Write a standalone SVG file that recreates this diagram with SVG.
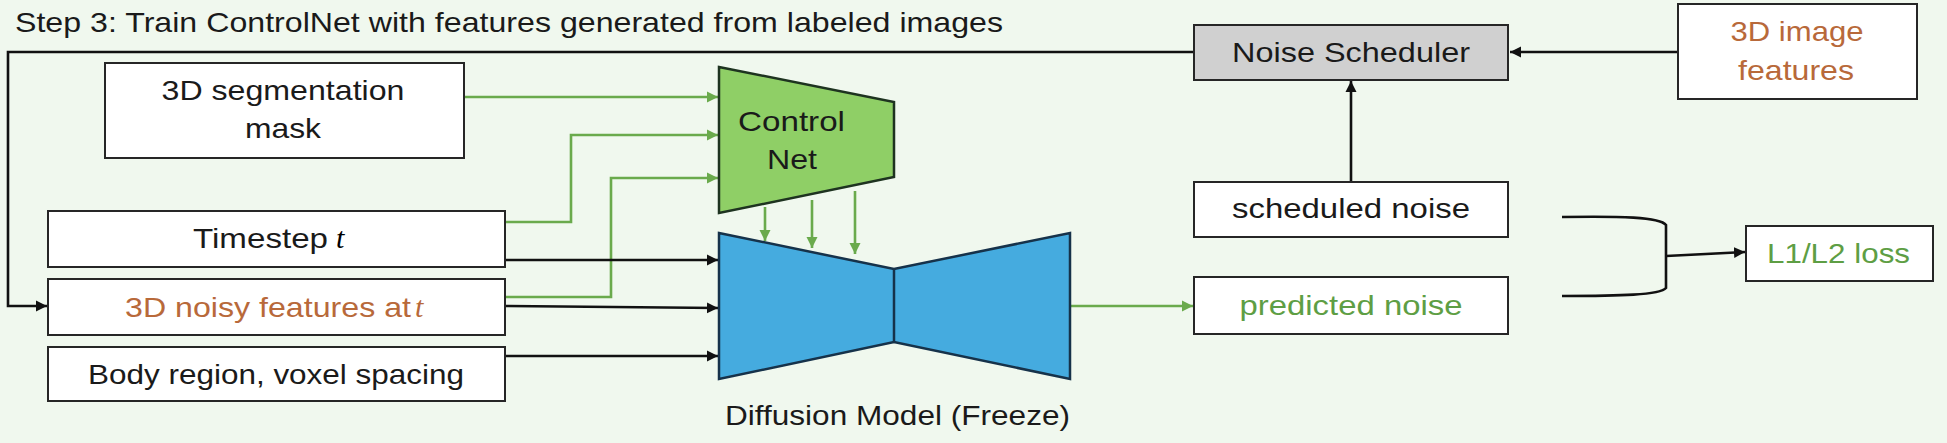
<svg xmlns="http://www.w3.org/2000/svg" width="1947" height="443" viewBox="0 0 1947 443">
<defs>
<style>
.box{fill:#ffffff;stroke:#262626;stroke-width:2}
.t{font-family:"Liberation Sans",Arial,sans-serif;font-size:28px;fill:#1a1a1a}
.m{font-family:"Liberation Serif","Times New Roman",serif;font-style:italic;font-size:30px}
.br{fill:#b8693a}
.gr{fill:#5e9e44}
.blk{fill:none;stroke:#111;stroke-width:2.6}
.grn{fill:none;stroke:#6aaa4c;stroke-width:2.6}
</style>
<marker id="ab" viewBox="0 0 10 10" refX="10" refY="5" markerWidth="11" markerHeight="12" markerUnits="userSpaceOnUse" orient="auto"><path d="M0,0 L10,5 L0,10 Z" fill="#111"/></marker>
<marker id="ag" viewBox="0 0 10 10" refX="10" refY="5" markerWidth="11" markerHeight="12" markerUnits="userSpaceOnUse" orient="auto"><path d="M0,0 L10,5 L0,10 Z" fill="#6aaa4c"/></marker>
</defs>
<rect x="0" y="0" width="1947" height="443" fill="#f0f8ee"/>
<text class="t" x="15" y="32" font-size="25" textLength="988" lengthAdjust="spacingAndGlyphs">Step 3: Train ControlNet with features generated from labeled images</text>

<g id="connectors">
<path class="blk" d="M1194,52 H8 V306 H47" marker-end="url(#ab)"/>
<path class="grn" d="M464,97 H718" marker-end="url(#ag)"/>
<path class="grn" d="M505,222 H571 V135 H718" marker-end="url(#ag)"/>
<path class="grn" d="M505,297 H611 V178 H718" marker-end="url(#ag)"/>
<path class="blk" d="M505,260 H718" marker-end="url(#ab)"/>
<path class="blk" d="M505,306 L718,308" marker-end="url(#ab)"/>
<path class="blk" d="M505,356 H718" marker-end="url(#ab)"/>
<path class="grn" d="M765,207 V241" marker-end="url(#ag)"/>
<path class="grn" d="M812,200 V248" marker-end="url(#ag)"/>
<path class="grn" d="M855,191 V254" marker-end="url(#ag)"/>
<path class="grn" d="M1070,306 H1193" marker-end="url(#ag)"/>
<path class="blk" d="M1678,52 H1510" marker-end="url(#ab)"/>
<path class="blk" d="M1351,182 V81" marker-end="url(#ab)"/>
<path class="blk" stroke-width="3" d="M1562,217 C1620,216 1660,217 1666,225 V288 C1660,295 1620,296 1562,296"/>
<path class="blk" d="M1666,256 L1745,252" marker-end="url(#ab)"/>
</g>

<g id="seg-mask">
<rect class="box" x="105" y="63" width="359" height="95"/>
<text class="t" x="283" y="100" text-anchor="middle" textLength="243" lengthAdjust="spacingAndGlyphs">3D segmentation</text>
<text class="t" x="283" y="138" text-anchor="middle" textLength="76" lengthAdjust="spacingAndGlyphs">mask</text>
</g>
<g id="timestep">
<rect class="box" x="48" y="211" width="457" height="56"/>
<text class="t" x="193" y="248" textLength="135" lengthAdjust="spacingAndGlyphs">Timestep</text>
<text class="m" x="336" y="248">t</text>
</g>
<g id="noisy-features">
<rect class="box" x="48" y="279" width="457" height="56"/>
<text class="t br" x="125" y="317" textLength="286" lengthAdjust="spacingAndGlyphs">3D noisy features at</text>
<text class="m br" x="415" y="317">t</text>
</g>
<g id="body-region">
<rect class="box" x="48" y="347" width="457" height="54"/>
<text class="t" x="88" y="384" textLength="376" lengthAdjust="spacingAndGlyphs">Body region, voxel spacing</text>
</g>
<g id="controlnet">
<polygon points="719,67 894,102 894,177 719,213" fill="#8fcf66" stroke="#1e3320" stroke-width="2.5"/>
<text class="t" x="738" y="131" font-size="29" textLength="107" lengthAdjust="spacingAndGlyphs">Control</text>
<text class="t" x="767" y="169" font-size="29" textLength="50" lengthAdjust="spacingAndGlyphs">Net</text>
</g>
<g id="diffusion-model">
<polygon points="719,233 894,269 1070,233 1070,379 894,342 719,379" fill="#45abdf" stroke="#16324a" stroke-width="2.5"/>
<line x1="894" y1="269" x2="894" y2="342" stroke="#16324a" stroke-width="2.5"/>
<text class="t" x="725" y="425" textLength="345" lengthAdjust="spacingAndGlyphs">Diffusion Model (Freeze)</text>
</g>
<g id="noise-scheduler">
<rect class="box" x="1194" y="25" width="314" height="55" fill="#d0d0d0" style="fill:#d0d0d0"/>
<text class="t" x="1351" y="62" text-anchor="middle" textLength="238" lengthAdjust="spacingAndGlyphs">Noise Scheduler</text>
</g>
<g id="image-features">
<rect class="box" x="1678" y="4" width="239" height="95"/>
<text class="t br" x="1797" y="41" text-anchor="middle" textLength="133" lengthAdjust="spacingAndGlyphs">3D image</text>
<text class="t br" x="1796" y="80" text-anchor="middle" textLength="116" lengthAdjust="spacingAndGlyphs">features</text>
</g>
<g id="scheduled-noise">
<rect class="box" x="1194" y="182" width="314" height="55"/>
<text class="t" x="1351" y="218" text-anchor="middle" textLength="238" lengthAdjust="spacingAndGlyphs">scheduled noise</text>
</g>
<g id="predicted-noise">
<rect class="box" x="1194" y="277" width="314" height="57"/>
<text class="t gr" x="1351" y="315" text-anchor="middle" textLength="223" lengthAdjust="spacingAndGlyphs">predicted noise</text>
</g>
<g id="loss">
<rect class="box" x="1746" y="226" width="187" height="55"/>
<text class="t gr" x="1767" y="263" textLength="143" lengthAdjust="spacingAndGlyphs">L1/L2 loss</text>
</g>
</svg>
